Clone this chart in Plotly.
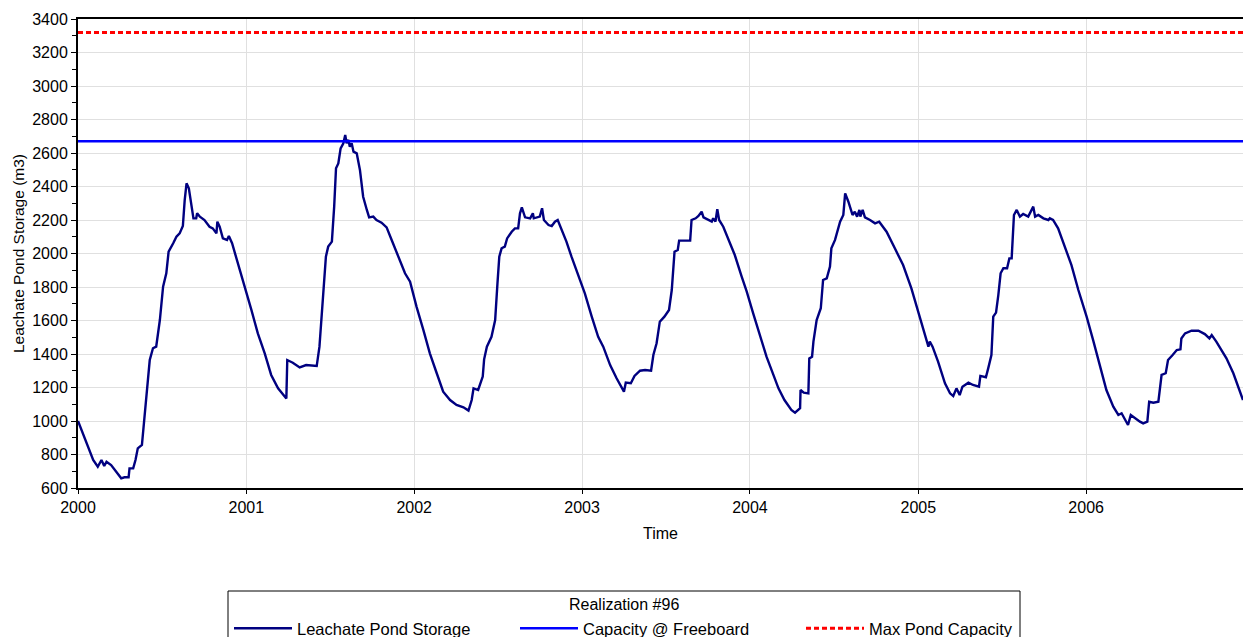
import pandas as pd
import plotly.graph_objects as go

# Simulated leachate pond storage, realization #96 (days since 2000-01-01, m3)
storage_day = [
    0, 14, 33, 43, 51, 57, 62, 72, 83, 94, 101, 110, 112, 120, 125, 130, 139, 145, 149, 156,
    163, 170, 178, 185, 192, 197, 207, 214, 221, 228, 232, 236, 241, 246, 251, 257, 259, 265,
    275, 286, 293, 301, 303, 308, 315, 324, 328, 335, 348, 362, 377, 391, 406, 420, 435, 453,
    455, 467, 482, 496, 519, 525, 530, 533, 539, 544, 552, 557, 561, 566, 571, 577, 581, 584,
    588, 591, 595, 599, 606, 613, 620, 628, 633, 642, 649, 660, 671, 682, 696, 711, 722, 736,
    751, 765, 780, 794, 809, 823, 838, 849, 856, 860, 870, 880, 883, 889, 899, 907, 912, 916,
    921, 928, 933, 943, 950, 957, 961, 965, 972, 983, 989, 991, 1004, 1009, 1013, 1023, 1030,
    1037, 1043, 1052, 1062, 1073, 1088, 1102, 1117, 1131, 1142, 1157, 1171, 1182, 1187, 1191,
    1202, 1210, 1222, 1233, 1246, 1251, 1258, 1265, 1275, 1285, 1291, 1297, 1304, 1307, 1331,
    1334, 1343, 1349, 1356, 1360, 1370, 1378, 1381, 1386, 1390, 1394, 1403, 1414, 1428, 1443,
    1454, 1468, 1483, 1497, 1512, 1523, 1536, 1551, 1559, 1570, 1571, 1578, 1588, 1590, 1596,
    1599, 1606, 1615, 1620, 1628, 1635, 1638, 1646, 1651, 1657, 1664, 1668, 1675, 1684, 1689,
    1694, 1699, 1701, 1706, 1711, 1722, 1733, 1742, 1758, 1776, 1794, 1812, 1830, 1849, 1852,
    1858, 1870, 1885, 1896, 1903, 1910, 1917, 1923, 1936, 1946, 1959, 1962, 1974, 1979, 1986,
    1990, 1996, 2001, 2006, 2012, 2020, 2025, 2030, 2035, 2041, 2048, 2055, 2066, 2077, 2081,
    2088, 2099, 2110, 2113, 2120, 2131, 2146, 2160, 2175, 2193, 2207, 2222, 2236, 2251, 2262,
    2269, 2276, 2283, 2289, 2298, 2309, 2316, 2325, 2329, 2338, 2349, 2356, 2365, 2370, 2380,
    2389, 2397, 2399, 2407, 2421, 2436, 2450, 2460, 2465, 2475, 2497, 2512, 2523, 2533,
]
storage_m3 = [
    1000, 906, 767, 727, 767, 731, 757, 737, 698, 658, 664, 664, 717, 717, 767, 837, 857, 1026, 1145, 1364,
    1434, 1444, 1603, 1802, 1882, 2011, 2061, 2100, 2120, 2164, 2319, 2419, 2389, 2299, 2210, 2210, 2240, 2220,
    2200, 2160, 2150, 2120, 2190, 2160, 2090, 2081, 2104, 2061, 1941, 1802, 1663, 1523, 1404, 1275, 1195, 1135,
    1364, 1348, 1320, 1334, 1328, 1444, 1643, 1762, 1981, 2041, 2071, 2280, 2509, 2538, 2628, 2658, 2708, 2658,
    2678, 2638, 2658, 2608, 2598, 2499, 2339, 2260, 2216, 2220, 2200, 2184, 2156, 2081, 1981, 1882, 1832, 1683,
    1543, 1404, 1285, 1175, 1125, 1096, 1082, 1062, 1125, 1195, 1185, 1265, 1368, 1444, 1503, 1603, 1822, 1981,
    2031, 2041, 2090, 2130, 2150, 2150, 2240, 2275, 2216, 2210, 2240, 2210, 2220, 2270, 2200, 2170, 2164,
    2190, 2200, 2140, 2071, 1981, 1872, 1762, 1623, 1503, 1444, 1334, 1255, 1195, 1175, 1229,
    1225, 1269, 1300, 1304, 1300, 1394, 1464, 1593, 1623, 1663, 1782, 2011, 2021, 2077, 2077,
    2200, 2210, 2224, 2250, 2216, 2200, 2190, 2210, 2190, 2264, 2200, 2160, 2090, 1991, 1862,
    1772, 1643, 1503, 1384, 1275, 1195, 1125, 1066, 1050, 1076, 1185, 1169, 1165, 1374, 1384,
    1474, 1603, 1673, 1842, 1852, 1922, 2031, 2081, 2130, 2190, 2230, 2359, 2309, 2230, 2250,
    2220, 2260, 2220, 2260, 2216, 2200, 2180, 2190, 2130, 2031, 1931, 1792, 1623, 1444, 1474,
    1444, 1354, 1225, 1165, 1149, 1195, 1155, 1205, 1229, 1215, 1205, 1269, 1261, 1314, 1394,
    1623, 1647, 1752, 1882, 1912, 1912, 1971, 1971, 2230, 2260, 2220, 2236, 2220, 2280, 2220,
    2230, 2210, 2200, 2210, 2200, 2150, 2031, 1931, 1782, 1623, 1484, 1324, 1185, 1086, 1036,
    1046, 1006, 976, 1036, 1016, 996, 986, 996, 1115, 1109, 1115, 1275, 1285, 1364, 1394,
    1424, 1428, 1493, 1523, 1539, 1539, 1519, 1493, 1513, 1474, 1374, 1285, 1205, 1125,
]

capacity_freeboard = 2670   # m3
max_pond_capacity = 3320    # m3

start = pd.Timestamp("2000-01-01")
dates = start + pd.to_timedelta(storage_day, unit="D")
end = dates[-1]

FONT = "Liberation Sans, Arial, sans-serif"

# pixel -> paper helpers for the 1165 x 469 px plot area
def px_x(px):
    return (px - 78) / 1165

def px_y(py):
    return (488 - py) / 469

fig = go.Figure()
fig.add_trace(go.Scatter(
    x=dates, y=storage_m3, mode="lines", name="Leachate Pond Storage",
    line=dict(color="#000080", width=2.4),
))
fig.add_trace(go.Scatter(
    x=[start, end], y=[capacity_freeboard, capacity_freeboard], mode="lines",
    name="Capacity @ Freeboard", line=dict(color="#0000FF", width=2.4),
))
fig.add_trace(go.Scatter(
    x=[start, end], y=[max_pond_capacity, max_pond_capacity], mode="lines",
    name="Max Pond Capacity", line=dict(color="#FF0000", width=3, dash="5px,3px"),
))

# Legend frame (runs off the bottom edge of the page) and its heading
fig.add_shape(
    type="rect", xref="paper", yref="paper",
    x0=px_x(228), x1=px_x(1020), y0=px_y(680), y1=px_y(591),
    line=dict(color="#000000", width=1), fillcolor="rgba(0,0,0,0)", layer="above",
)
fig.add_annotation(
    text="Realization #96", xref="paper", yref="paper",
    x=px_x(624), y=px_y(604), xanchor="center", yanchor="middle",
    showarrow=False, font=dict(size=16),
)

fig.update_layout(
    width=1243, height=637,
    margin=dict(l=78, r=0, t=19, b=149, autoexpand=False),
    paper_bgcolor="white", plot_bgcolor="white",
    font=dict(family=FONT, size=16, color="#000000"),
    showlegend=True,
    legend=dict(
        orientation="h", x=px_x(229), xanchor="left",
        y=px_y(611), yanchor="top",
        entrywidth=213, entrywidthmode="pixels", itemwidth=58,
        bgcolor="rgba(0,0,0,0)", font=dict(size=16.5),
    ),
    xaxis=dict(
        type="date", range=[start, end],
        tick0="2000-01-01", dtick="M12", tickformat="%Y",
        showgrid=True, gridcolor="#E0E0E0", gridwidth=1,
        showline=True, linecolor="#000000", linewidth=2, mirror=True,
        ticks="outside", ticklen=4, tickcolor="#000000",
        title=dict(text="Time", standoff=13, font=dict(size=16)),
        zeroline=False,
    ),
    yaxis=dict(
        range=[600, 3400], dtick=200, tick0=600,
        showgrid=True, gridcolor="#E0E0E0", gridwidth=1,
        showline=True, linecolor="#000000", linewidth=2,
        ticks="outside", ticklen=5, tickcolor="#000000",
        minor=dict(dtick=100, ticks="outside", ticklen=4, tickcolor="#000000", showgrid=False),
        title=dict(text="Leachate Pond Storage (m3)", standoff=4, font=dict(size=15.5)),
        zeroline=False,
    ),
)

fig.write_html("out.html")
